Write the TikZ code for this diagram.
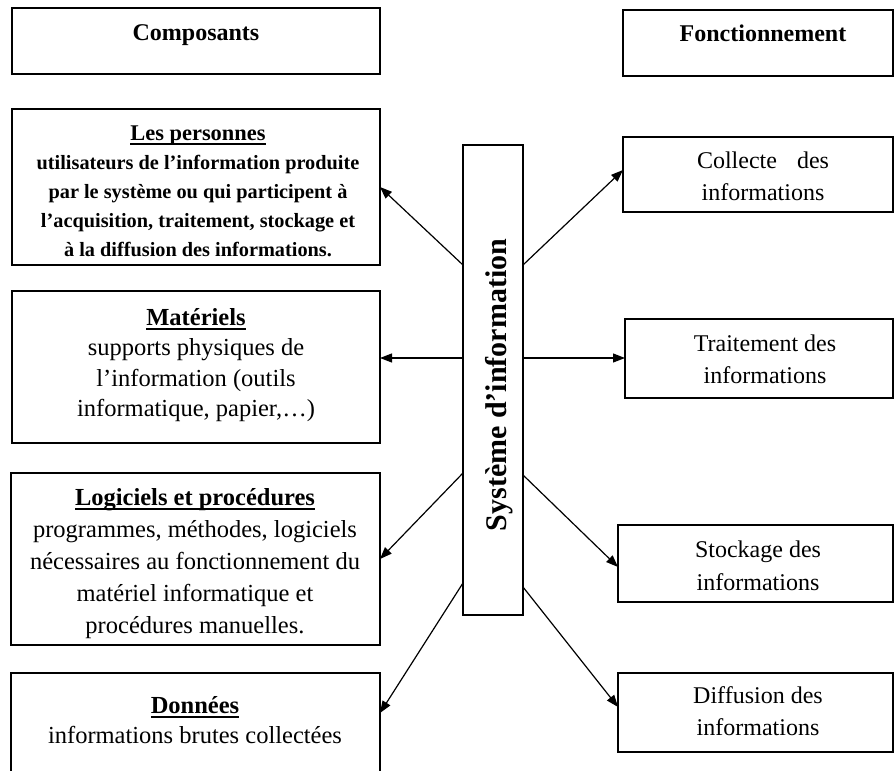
\documentclass[tikz,border=0pt]{standalone}
\usepackage{fontspec}
\setmainfont{Liberation Serif}
\usetikzlibrary{arrows.meta,calc}
% heavy underline for the box headings
\newcommand\hul[1]{\setbox0\hbox{#1}\rlap{\rule[-4.6pt]{\wd0}{1.3pt}}\box0}
% centred lines, baseline of the whole block = baseline of its first line
\newcommand\lines[1]{\vtop{\halign{\hfil##\hfil\cr#1\crcr}}}
\begin{document}
\begin{tikzpicture}[x=1pt,y=-1pt,
  frame/.style={draw, line width=1.5pt, inner sep=0pt, outer sep=0pt, anchor=north west},
  txt/.style={inner sep=0pt, anchor=base},
  link/.style={line width=1.2pt, -{Triangle[length=12pt,width=9pt]}}]
\useasboundingbox (0,0) rectangle (895,771);
\clip (0,0) rectangle (895,771);

% column headers
\node[frame, minimum width=368pt, minimum height=66pt] (comp) at (12,8) {};
\node[frame, minimum width=270pt, minimum height=66pt] (fonc) at (623,10) {};

% components
\node[frame, minimum width=368pt, minimum height=156pt] (pers) at (12,109) {};
\node[frame, minimum width=368pt, minimum height=152pt] (mat) at (12,291) {};
\node[frame, minimum width=369pt, minimum height=172pt] (logi) at (11,473) {};
\node[frame, minimum width=369pt, minimum height=130pt] (don) at (11,673) {};

% functions
\node[frame, line width=1.3pt, minimum width=270pt, minimum height=75pt] (coll) at (623,137) {};
\node[frame, line width=1.3pt, minimum width=268pt, minimum height=79pt] (trait) at (625,319) {};
\node[frame, line width=1.3pt, minimum width=275pt, minimum height=77pt] (stock) at (618,525) {};
\node[frame, line width=1.3pt, minimum width=275pt, minimum height=79pt] (diff) at (618,673) {};

% central system box
\node[frame, line width=1.2pt, minimum width=60pt, minimum height=470pt] (si) at (463,145) {};

% connection points on the central box
\coordinate (siL1) at ($(si.north west)+(0,120)$);
\coordinate (siL2) at ($(si.north west)+(0,213)$);
\coordinate (siL3) at ($(si.north west)+(0,328)$);
\coordinate (siL4) at ($(si.north west)+(0,438)$);
\coordinate (siR1) at ($(si.north east)+(0,120)$);
\coordinate (siR2) at ($(si.north east)+(0,213)$);
\coordinate (siR3) at ($(si.north east)+(0,330)$);
\coordinate (siR4) at ($(si.north east)+(0,442)$);
\coordinate (donIn) at ($(don.north east)+(0,40)$);
\coordinate (collIn) at ($(coll.north west)+(0,33)$);
\coordinate (stockIn) at ($(stock.north west)+(0,42)$);
\coordinate (diffIn) at ($(diff.north west)+(0,34)$);

\draw[link] (siL1) -- (pers.east);
\draw[link] (siL2) -- (siL2 -| mat.east);
\draw[link] (siL3) -- (logi.east);
\draw[link] (siL4) -- (donIn);
\draw[link] (siR1) -- (collIn);
\draw[link] (siR2) -- (siR2 -| trait.west);
\draw[link] (siR3) -- (stockIn);
\draw[link] (siR4) -- (diffIn);

% texts
\node[txt, font=\bfseries\fontsize{24}{30}\selectfont] (tcomp) at (196,40) {Composants};
\node[txt, font=\bfseries\fontsize{24}{30}\selectfont] (tfonc) at (763,41) {Fonctionnement};

\node[txt, font=\bfseries\fontsize{20.3}{29.2}\selectfont] (tpers) at (198,140) {\lines{%
  {\fontsize{22.4}{29.2}\selectfont\hul{Les personnes}}\cr
  utilisateurs de l’information produite\cr
  par le système ou qui participent à\cr
  l’acquisition, traitement, stockage et\cr
  à la diffusion des informations.}};

\node[txt, font=\fontsize{24.5}{30.5}\selectfont] (tmat) at (196,325) {\lines{%
  \hul{\bfseries Matériels}\cr
  supports physiques de\cr
  l’information (outils\cr
  informatique, papier,…)}};

\node[txt, font=\fontsize{24.5}{32}\selectfont] (tlogi) at (195,505) {\lines{%
  \hul{\bfseries Logiciels et procédures}\cr
  programmes, méthodes, logiciels\cr
  nécessaires au fonctionnement du\cr
  matériel informatique et\cr
  procédures manuelles.}};

\node[txt, font=\fontsize{24.5}{30}\selectfont] (tdon) at (195,713) {\lines{%
  \hul{\bfseries Données}\cr
  informations brutes collectées}};

\node[txt, font=\fontsize{24}{32}\selectfont] (tcoll) at (763,168) {\lines{%
  Collecte\hspace{20pt}des\cr informations}};
\node[txt, font=\fontsize{24}{32}\selectfont] (ttrait) at (765,351) {\lines{%
  Traitement des\cr informations}};
\node[txt, font=\fontsize{24}{33}\selectfont] (tstock) at (758,557) {\lines{%
  Stockage des\cr informations}};
\node[txt, font=\fontsize{24}{32}\selectfont] (tdiff) at (758,703) {\lines{%
  Diffusion des\cr informations}};

\node[txt, rotate=90, font=\bfseries\fontsize{30}{36}\selectfont] (tsi) at (506,385) {Système d’information};
\end{tikzpicture}
\end{document}
